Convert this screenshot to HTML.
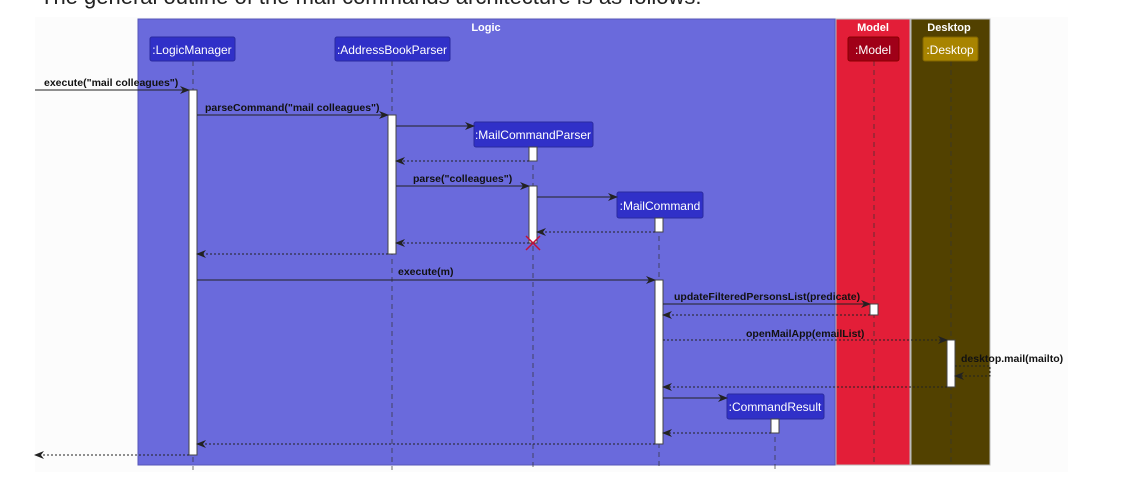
<!DOCTYPE html>
<html><head><meta charset="utf-8"><style>
html,body{margin:0;padding:0;background:#fff;width:1123px;height:484px;overflow:hidden}
svg{display:block}
</style></head><body>
<svg width="1123" height="484" xmlns="http://www.w3.org/2000/svg" font-family="Liberation Sans, sans-serif">
<defs>
<marker id="a" markerWidth="10" markerHeight="8" refX="9" refY="4" orient="auto" markerUnits="userSpaceOnUse"><path d="M0,0 L10,4 L0,8 L3,4 Z" fill="#222"/></marker>
</defs>
<text x="40" y="4" font-size="22" fill="#222">The general outline of the mail commands architecture is as follows:</text>
<rect x="35" y="17" width="1033" height="455" fill="#fcfcfc"/>
<rect x="138" y="19" width="697" height="446" fill="#6a6adc" stroke="#5656b8"/>
<rect x="836" y="19" width="74" height="446" fill="#e31e38" stroke="#bbb"/>
<rect x="911" y="19" width="79" height="446" fill="#524100" stroke="#bbb"/>
<g font-weight="bold" font-size="11" fill="#fff" text-anchor="middle">
<text x="486" y="31">Logic</text><text x="873" y="31">Model</text><text x="949" y="31">Desktop</text>
</g>
<g stroke="#333" stroke-dasharray="5,4" stroke-width="1" opacity="0.7">
<line x1="193" y1="61" x2="193" y2="470"/><line x1="392" y1="61" x2="392" y2="470"/>
<line x1="533" y1="147" x2="533" y2="470"/><line x1="659" y1="218" x2="659" y2="470"/>
<line x1="775" y1="419" x2="775" y2="470"/><line x1="874" y1="61" x2="874" y2="465"/>
<line x1="951" y1="61" x2="951" y2="465"/>
</g>
<g font-size="12" fill="#fff" text-anchor="middle">
<rect x="150" y="37" width="85" height="24" rx="2" fill="#3030c8" stroke="#2a2aa0"/><text x="192" y="54">:LogicManager</text>
<rect x="335" y="37" width="115" height="24" rx="2" fill="#3030c8" stroke="#2a2aa0"/><text x="392" y="54">:AddressBookParser</text>
<rect x="474" y="122" width="119" height="25" rx="2" fill="#3030c8" stroke="#2a2aa0"/><text x="533" y="139">:MailCommandParser</text>
<rect x="617" y="192" width="86" height="26" rx="2" fill="#3030c8" stroke="#2a2aa0"/><text x="660" y="210">:MailCommand</text>
<rect x="727" y="394" width="97" height="25" rx="2" fill="#3030c8" stroke="#2a2aa0"/><text x="775" y="411">:CommandResult</text>
<rect x="848" y="37" width="51" height="24" rx="2" fill="#a00018" stroke="#800"/><text x="873" y="54">:Model</text>
<rect x="923" y="37" width="55" height="24" rx="2" fill="#a88400" stroke="#806400"/><text x="950" y="54">:Desktop</text>
</g>
<g fill="#fff" stroke="#444">
<rect x="189" y="90" width="8" height="365"/><rect x="388" y="115" width="8" height="139"/>
<rect x="529" y="147" width="8" height="14"/><rect x="529" y="186" width="8" height="57"/>
<rect x="655" y="218" width="8" height="14"/><rect x="655" y="280" width="8" height="164"/>
<rect x="870" y="304" width="8" height="11"/><rect x="947" y="340" width="8" height="47"/>
<rect x="771" y="419" width="8" height="14"/>
</g>
<g stroke="#222" stroke-width="1" fill="none" marker-end="url(#a)">
<line x1="35" y1="90" x2="189" y2="90"/>
<line x1="197" y1="115" x2="388" y2="115"/>
<line x1="396" y1="126" x2="474" y2="126"/>
<line x1="396" y1="186" x2="529" y2="186"/>
<line x1="537" y1="197" x2="617" y2="197"/>
<line x1="197" y1="280" x2="655" y2="280"/>
<line x1="663" y1="304" x2="870" y2="304"/>
<line x1="663" y1="398" x2="727" y2="398"/>
</g>
<g stroke="#222" stroke-width="1" fill="none" stroke-dasharray="2,2" marker-end="url(#a)">
<line x1="529" y1="161" x2="396" y2="161"/>
<line x1="655" y1="232" x2="537" y2="232"/>
<line x1="529" y1="243" x2="396" y2="243"/>
<line x1="388" y1="254" x2="197" y2="254"/>
<line x1="870" y1="315" x2="663" y2="315"/>
<line x1="663" y1="340" x2="947" y2="340"/>
<polyline points="955,366 990,366 990,376 955,376"/>
<line x1="947" y1="387" x2="663" y2="387"/>
<line x1="771" y1="433" x2="663" y2="433"/>
<line x1="655" y1="444" x2="197" y2="444"/>
<line x1="189" y1="455" x2="35" y2="455"/>
</g>
<g stroke="#c0103a" stroke-width="1.5"><line x1="526" y1="236" x2="540" y2="250"/><line x1="540" y1="236" x2="526" y2="250"/></g>
<g font-size="10.5" font-weight="bold" fill="#111">
<text x="44" y="86">execute("mail colleagues")</text>
<text x="205" y="111">parseCommand("mail colleagues")</text>
<text x="413" y="182">parse("colleagues")</text>
<text x="398" y="275">execute(m)</text>
<text x="674" y="300">updateFilteredPersonsList(predicate)</text>
<text x="746" y="337">openMailApp(emailList)</text>
<text x="961" y="362">desktop.mail(mailto)</text>
</g>
</svg>
</body></html>
